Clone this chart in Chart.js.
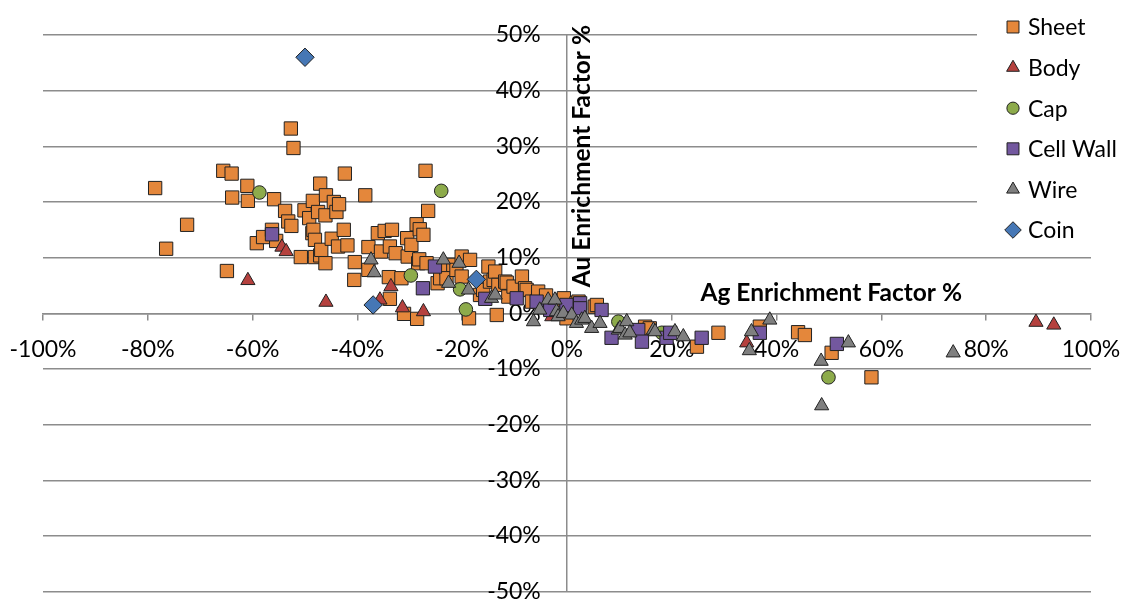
<!DOCTYPE html>
<html>
<head>
<meta charset="utf-8">
<script src="https://cdn.jsdelivr.net/npm/chart.js@4/dist/chart.umd.min.js"></script>
<style>
  html, body { margin: 0; padding: 0; background: #fff; }
  #wrap { position: relative; width: 1127px; height: 602px; }
</style>
</head>
<body>
<div id="wrap"><canvas id="chart"></canvas></div>
<script>
// [Ag %, Au %] pairs
const sheetPts = [
  [-78.6,22.5],[-76.5,11.6],[-72.5,15.9],[-65.6,25.6],[-64.0,25.1],[-64.9,7.6],[-63.9,20.8],[-61.0,22.9],
  [-60.9,20.2],[-59.2,12.6],[-58.0,13.7],[-56.3,15.0],[-55.9,20.5],[-55.5,13.0],[-53.8,18.4],[-53.2,16.5],
  [-52.6,15.7],[-52.7,33.2],[-52.2,29.7],[-50.8,10.1],[-50.1,18.5],[-49.2,17.1],[-48.6,14.4],[-48.4,15.0],
  [-48.5,20.2],[-48.1,13.2],[-48.1,10.1],[-47.5,18.2],[-47.1,23.3],[-47.1,10.4],[-46.9,11.4],[-46.1,17.6],
  [-46.0,21.2],[-46.1,9.0],[-44.9,13.4],[-44.5,20.0],[-44.0,18.2],[-43.5,19.6],[-43.7,12.0],[-42.6,15.0],
  [-42.4,25.1],[-41.9,12.2],[-40.5,9.2],[-40.6,6.0],[-38.5,21.2],[-37.9,11.9],[-37.9,7.8],[-36.1,14.4],
  [-35.5,11.1],[-34.8,14.8],[-34.0,6.5],[-33.8,12.0],[-33.8,2.6],[-33.4,15.0],[-32.7,10.8],[-31.6,6.3],
  [-31.1,-0.1],[-30.5,13.5],[-30.4,10.2],[-29.7,12.3],[-28.7,16.0],[-28.6,-1.0],[-28.4,9.0],[-28.2,9.7],
  [-28.1,15.1],[-27.4,14.1],[-27.0,25.6],[-26.8,9.0],[-26.5,18.4],[-24.7,5.4],[-24.2,6.3],[-23.0,8.1],
  [-23.0,6.3],[-21.7,8.7],[-21.1,7.8],[-20.1,10.2],[-20.1,6.6],[-18.7,-0.9],[-18.5,9.6],[-16.6,3.3],
  [-16.0,4.2],[-15.0,8.4],[-14.7,5.7],[-14.0,6.0],[-13.7,7.5],[-13.4,-0.3],[-13.1,5.1],[-11.8,5.7],
  [-11.5,5.5],[-11.2,3.0],[-10.2,4.8],[-8.6,6.6],[-8.0,4.5],[-7.7,4.2],[-6.7,2.1],[-5.5,3.9],
  [-4.0,3.2],[-0.7,2.4],[-0.6,2.7],[-0.1,-0.9],[1.8,1.8],[2.2,2.1],[5.3,1.2],[5.7,1.5],
  [14.9,-2.4],[15.8,-2.7],[24.8,-6.0],[28.9,-3.5],[36.8,-2.4],[44.1,-3.4],[45.4,-3.9],[50.5,-7.1],
  [58.1,-11.5]
];
const bodyPts = [
  [-60.9,5.9],[-54.4,11.9],[-53.6,11.1],[-46.0,2.0],[-35.7,2.4],[-33.6,4.8],[-31.4,1.0],[-27.4,0.3],
  [-2.9,-0.6],[34.3,-5.3],[89.5,-1.6],[92.9,-2.1]
];
const capPts = [
  [-58.7,21.7],[-24.0,22.0],[-29.8,6.8],[-20.4,4.3],[-19.3,0.7],[9.8,-1.5],[18.1,-3.5],[49.9,-11.5]
];
const cellWallPts = [
  [-56.3,14.2],[-27.5,4.5],[-25.2,8.4],[-15.6,2.6],[-9.6,2.7],[-5.8,2.1],[-3.2,0.6],[-0.1,0.9],
  [-0.1,1.5],[2.5,1.8],[2.5,0.9],[6.6,0.6],[8.5,-4.4],[13.6,-3.0],[14.3,-5.1],[19.0,-4.4],
  [19.7,-3.5],[25.7,-4.4],[36.8,-3.5],[51.5,-5.5]
];
const wirePts = [
  [-37.4,9.6],[-36.8,7.3],[-23.6,9.6],[-22.6,5.4],[-20.6,9.0],[-18.8,4.2],[-14.4,2.7],[-13.7,3.3],
  [-6.4,-1.5],[-5.2,0.6],[-3.6,2.4],[-2.3,2.4],[-2.0,0.3],[-1.7,-0.6],[-0.7,0.0],[0.9,-0.3],
  [1.8,-1.8],[2.8,-1.2],[3.4,-0.9],[4.7,-2.7],[6.3,-1.8],[9.8,-3.0],[10.1,-2.7],[11.4,-1.5],
  [11.1,-3.9],[12.0,-3.5],[16.5,-3.0],[16.8,-3.3],[20.6,-3.3],[22.2,-4.2],[35.2,-3.3],[34.8,-6.7],
  [38.7,-1.2],[48.5,-8.6],[48.6,-16.6],[53.7,-5.3],[73.7,-7.1]
];
const coinPts = [
  [-50.0,46.0],[-37.0,1.5],[-17.3,6.1]
];

const seriesNames = ['Sheet', 'Body', 'Cap', 'Cell Wall', 'Wire', 'Coin'];
const seriesPts = [sheetPts, bodyPts, capPts, cellWallPts, wirePts, coinPts];
const seriesColors = ['#e4873b', '#b5413e', '#8dab4b', '#73589f', '#7f7f7f', '#4677b5'];
const seriesStyles = ['rect', 'triangle', 'circle', 'rect', 'triangle', 'rectRot'];
const seriesRadius = [9.4, 8.2, 6.8, 9.4, 8.2, 9.2];

const xTitle = 'Ag Enrichment Factor %';
const yTitle = 'Au Enrichment Factor %';

const FONT = 'Lato, "Open Sans", sans-serif';
const GRID = '#8c8c8c';

// legend box + axis titles, drawn over the plot like the Excel layout
const overlay = {
  id: 'overlay',
  afterDraw(chart) {
    const ctx = chart.ctx;
    ctx.save();
    ctx.fillStyle = '#fff';
    ctx.fillRect(977, 0, 150, 250);

    ctx.font = '23px ' + FONT;
    ctx.textBaseline = 'middle';
    ctx.textAlign = 'left';
    seriesNames.forEach((name, i) => {
      const y = 27 + i * 40.6;
      ctx.save();
      ctx.fillStyle = seriesColors[i];
      ctx.strokeStyle = '#222';
      ctx.lineWidth = 1;
      Chart.helpers.drawPoint(ctx, {
        pointStyle: seriesStyles[i],
        radius: seriesRadius[i] * 0.9,
        rotation: 0,
        borderWidth: 1
      }, 1013, y);
      ctx.restore();
      ctx.fillStyle = '#000';
      ctx.fillText(name, 1028, y + 1);
    });

    ctx.fillStyle = '#000';
    ctx.font = 'bold 24.5px ' + FONT;
    ctx.textBaseline = 'alphabetic';
    ctx.textAlign = 'right';
    ctx.fillText(xTitle, 962, 301);

    ctx.translate(590, 25);
    ctx.rotate(-Math.PI / 2);
    ctx.fillText(yTitle, 0, 0);
    ctx.restore();
  }
};

new Chart(document.getElementById('chart'), {
  type: 'scatter',
  data: {
    datasets: seriesNames.map((name, i) => ({
      label: name,
      data: seriesPts[i].map(p => ({ x: p[0], y: p[1] })),
      pointStyle: seriesStyles[i],
      pointRadius: seriesRadius[i],
      pointHoverRadius: seriesRadius[i],
      backgroundColor: seriesColors[i],
      borderColor: '#222',
      borderWidth: 1,
      order: seriesNames.length - i
    }))
  },
  options: {
    responsive: true,
    maintainAspectRatio: false,
    animation: false,
    layout: { padding: { left: 43, right: 36, top: 35, bottom: 10 } },
    plugins: {
      legend: { display: false },
      tooltip: { enabled: false }
    },
    scales: {
      x: {
        type: 'linear',
        position: { y: 0 },
        min: -100,
        max: 100,
        ticks: {
          stepSize: 20,
          padding: 16,
          color: '#000',
          font: { family: FONT, size: 23 },
          maxRotation: 0,
          callback: v => v + '%'
        },
        // only the 0 line is drawn on the chart area: it is the vertical axis
        grid: {
          drawOnChartArea: true,
          drawTicks: true,
          tickLength: 6,
          color: c => (c.tick && c.tick.value === 0 ? GRID : 'rgba(0,0,0,0)'),
          tickColor: GRID,
          lineWidth: 1.5
        },
        border: { display: true, color: GRID, width: 1.5 },
        afterFit(s) { s.paddingLeft = 0; s.paddingRight = 0; }
      },
      y: {
        type: 'linear',
        // labels sit a little left of the vertical axis, as in Excel
        position: { x: -5 },
        min: -50,
        max: 50,
        ticks: {
          stepSize: 10,
          color: '#000',
          font: { family: FONT, size: 23 },
          callback: v => v + '%'
        },
        grid: { color: GRID, lineWidth: 1.5, drawTicks: false },
        border: { display: false },
        afterFit(s) { s.paddingTop = 0; s.paddingBottom = 0; }
      }
    }
  },
  plugins: [overlay]
});
</script>
</body>
</html>
